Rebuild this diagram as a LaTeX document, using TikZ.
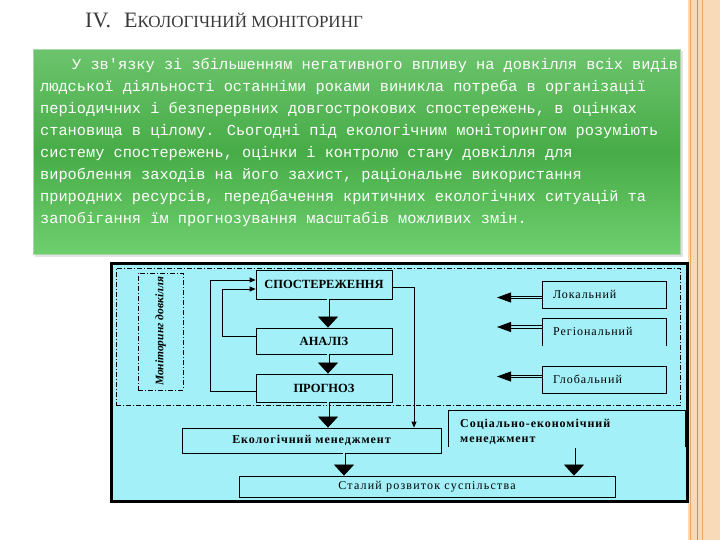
\documentclass[tikz,border=0pt]{standalone}
\usepackage{fontspec}
\setmainfont{Liberation Serif}
\newfontfamily\parafont{Liberation Mono}
\newfontfamily\spacedfont[LetterSpace=8]{Liberation Serif}
\newfontfamily\widefont[LetterSpace=10]{Liberation Serif}
\usetikzlibrary{arrows.meta,calc}
\definecolor{cyanbg}{HTML}{A3F0F8}
\definecolor{peach}{HTML}{F8DAB8}
\definecolor{orangeln}{HTML}{E9A868}
\definecolor{gtop}{HTML}{6CC46C}
\definecolor{gmid}{HTML}{47AC47}
\definecolor{gbot}{HTML}{6ECF6E}
\definecolor{titlegray}{HTML}{3A3A3A}
\begin{document}
\begin{tikzpicture}[x=1pt,y=-1pt,
  box/.style={draw, line width=0.8pt, fill=cyanbg, inner sep=0pt},
  dashdot/.style={draw, line width=0.7pt, dash pattern=on 5pt off 2pt on 1pt off 2pt},
  paraline/.style={anchor=base west, inner sep=0pt, text=white, font=\parafont\fontsize{15.3}{22}\selectfont},
  capsfont/.style={font=\fontsize{12.5}{14}\selectfont\bfseries},
  lvlfont/.style={font=\spacedfont\fontsize{12}{14}\selectfont},
  dblarrow/.style={line width=0.7pt, double=cyanbg, double distance=1.6pt, -{Triangle[width=20pt,length=11pt]}},
  leftarr/.style={line width=0.8pt, double=cyanbg, double distance=1.8pt, -{Triangle[width=10pt,length=14pt]}},
  thinarr/.style={line width=0.8pt, -{Triangle[width=5pt,length=6pt]}}
]
\useasboundingbox (0,0) rectangle (720,540);
\fill[white] (0,0) rectangle (720,540);
% right decorative band
\fill[peach] (688,0) rectangle (720,540);
\draw[orangeln, line width=0.8pt] (690,0) -- (690,540);
\draw[orangeln!85!black, line width=1.2pt] (697.5,0) -- (697.5,540);
\draw[orangeln, line width=1pt] (702,0) -- (702,540);

% title
\node[anchor=base west, text=titlegray, inner sep=0pt] (title) at (85,28)
  {\fontsize{22}{24}\selectfont IV.\hspace{13pt}Е\fontsize{17}{20}\selectfont КОЛОГІЧНИЙ МОНІТОРИНГ};

% green text panel
\fill[gray!22] (35,51) rectangle (683,257);
\node[draw=green!35!gray!50, line width=0.5pt, top color=gtop, bottom color=gbot, middle color=gmid,
      minimum width=647pt, minimum height=205pt, inner sep=0pt, anchor=north west] (panel) at (33,49) {};
\node[paraline] (p1) at (72,70)  {У зв'язку зі збільшенням негативного впливу на довкілля всіх видів};
\node[paraline] (p2) at (40,92)  {людської діяльності останніми роками виникла потреба в організації};
\node[paraline] (p3) at (40,114) {періодичних і безперервних довгострокових спостережень, в оцінках};
\node[paraline] (p4) at (40,136) {становища в цілому. Сьогодні під екологічним моніторингом розуміють};
\node[paraline] (p5) at (40,158) {систему спостережень, оцінки і контролю стану довкілля для};
\node[paraline] (p6) at (40,180) {вироблення заходів на його захист, раціональне використання};
\node[paraline] (p7) at (40,202) {природних ресурсів, передбачення критичних екологічних ситуацій та};
\node[paraline] (p8) at (40,224) {запобігання їм прогнозування масштабів можливих змін.};

% diagram frames
\node[draw, line width=3pt, fill=cyanbg, minimum width=576pt, minimum height=238pt, inner sep=0pt] (frame) at (399,382) {};
\node[dashdot, minimum width=564pt, minimum height=137.7pt, inner sep=0pt] (inner) at (398,336.85) {};
\node[dashdot, minimum width=45pt, minimum height=117pt, inner sep=0pt] (monbox) at (160.5,331.5) {};
\node[rotate=90, inner sep=0pt, font=\fontsize{11.5}{13}\selectfont\bfseries\itshape] (montext) at (monbox.center) {Моніторинг довкілля};

% central chain
\node[box, capsfont, minimum width=136pt, minimum height=29pt] (spost) at (324,284.5) {СПОСТЕРЕЖЕННЯ};
\node[box, capsfont, minimum width=136pt, minimum height=26pt] (analiz) at (324,341) {АНАЛІЗ};
\node[box, capsfont, minimum width=136pt, minimum height=28pt] (prognoz) at (324,388) {ПРОГНОЗ};

% levels
\node[box, lvlfont, minimum width=124pt, minimum height=27pt, text width=102pt, align=left, inner xsep=11pt] (local) at (604,294.5) {Локальний};
\draw[line width=0.8pt] (542,346) -- (542,318) -- (666,318) -- (666,346);
\node[lvlfont, anchor=west, inner sep=0pt] (regional) at (553,331) {Регіональний};
\node[box, lvlfont, minimum width=124pt, minimum height=27pt, text width=102pt, align=left, inner xsep=11pt] (global) at (604,379.5) {Глобальний};
\coordinate (la) at (497,297.5);
\coordinate (ra) at (497,327);
\coordinate (ga) at (497,376.5);
\coordinate (rw) at (542,327);
\draw[leftarr] ($(local.west)+(0,3)$) -- (la);
\draw[leftarr] (rw) -- (ra);
\draw[leftarr] ($(global.west)+(0,-3)$) -- (ga);

% management
\node[box, font=\spacedfont\fontsize{12}{14}\selectfont\bfseries, minimum width=259pt, minimum height=25pt] (ekmen) at (311.5,440.5) {Екологічний менеджмент};
\draw[line width=0.8pt] (448,447) -- (448,410) -- (685,410) -- (685,447);
\node[anchor=base west, inner sep=0pt, font=\spacedfont\fontsize{12}{14}\selectfont\bfseries] (soc1) at (460,427) {Соціально-економічний};
\node[anchor=base west, inner sep=0pt, font=\spacedfont\fontsize{12}{14}\selectfont\bfseries] (soc2) at (460,442) {менеджмент};
\node[box, font=\widefont\fontsize{12}{14}\selectfont, minimum width=376pt, minimum height=21pt] (stalyi) at (427,486.5) {Сталий розвиток суспільства};
\coordinate (socout) at (574,448);

% connectors
\draw[dblarrow] ([xshift=4pt]spost.south) -- ([xshift=4pt]analiz.north);
\draw[dblarrow] ([xshift=4pt]analiz.south) -- ([xshift=4pt]prognoz.north);
\draw[dblarrow] ([xshift=4pt]prognoz.south) -- ([xshift=4pt]prognoz.south |- ekmen.north);
\draw[dblarrow] ([xshift=32.5pt]ekmen.south) -- ([xshift=32.5pt]ekmen.south |- stalyi.north);
\draw[dblarrow] (socout) -- (socout |- stalyi.north);
\draw[thinarr] ($(prognoz.west)+(0,3.7)$) -- ++(-45,0) |- ($(spost.west)+(0,-4.5)$);
\draw[thinarr] ($(analiz.west)+(0,-5)$) -- ++(-33,0) |- ($(spost.west)+(0,4.5)$);
\draw[thinarr] ($(spost.east)+(0,3)$) -| ($(ekmen.north)+(102.5,0)$);
\end{tikzpicture}
\end{document}
